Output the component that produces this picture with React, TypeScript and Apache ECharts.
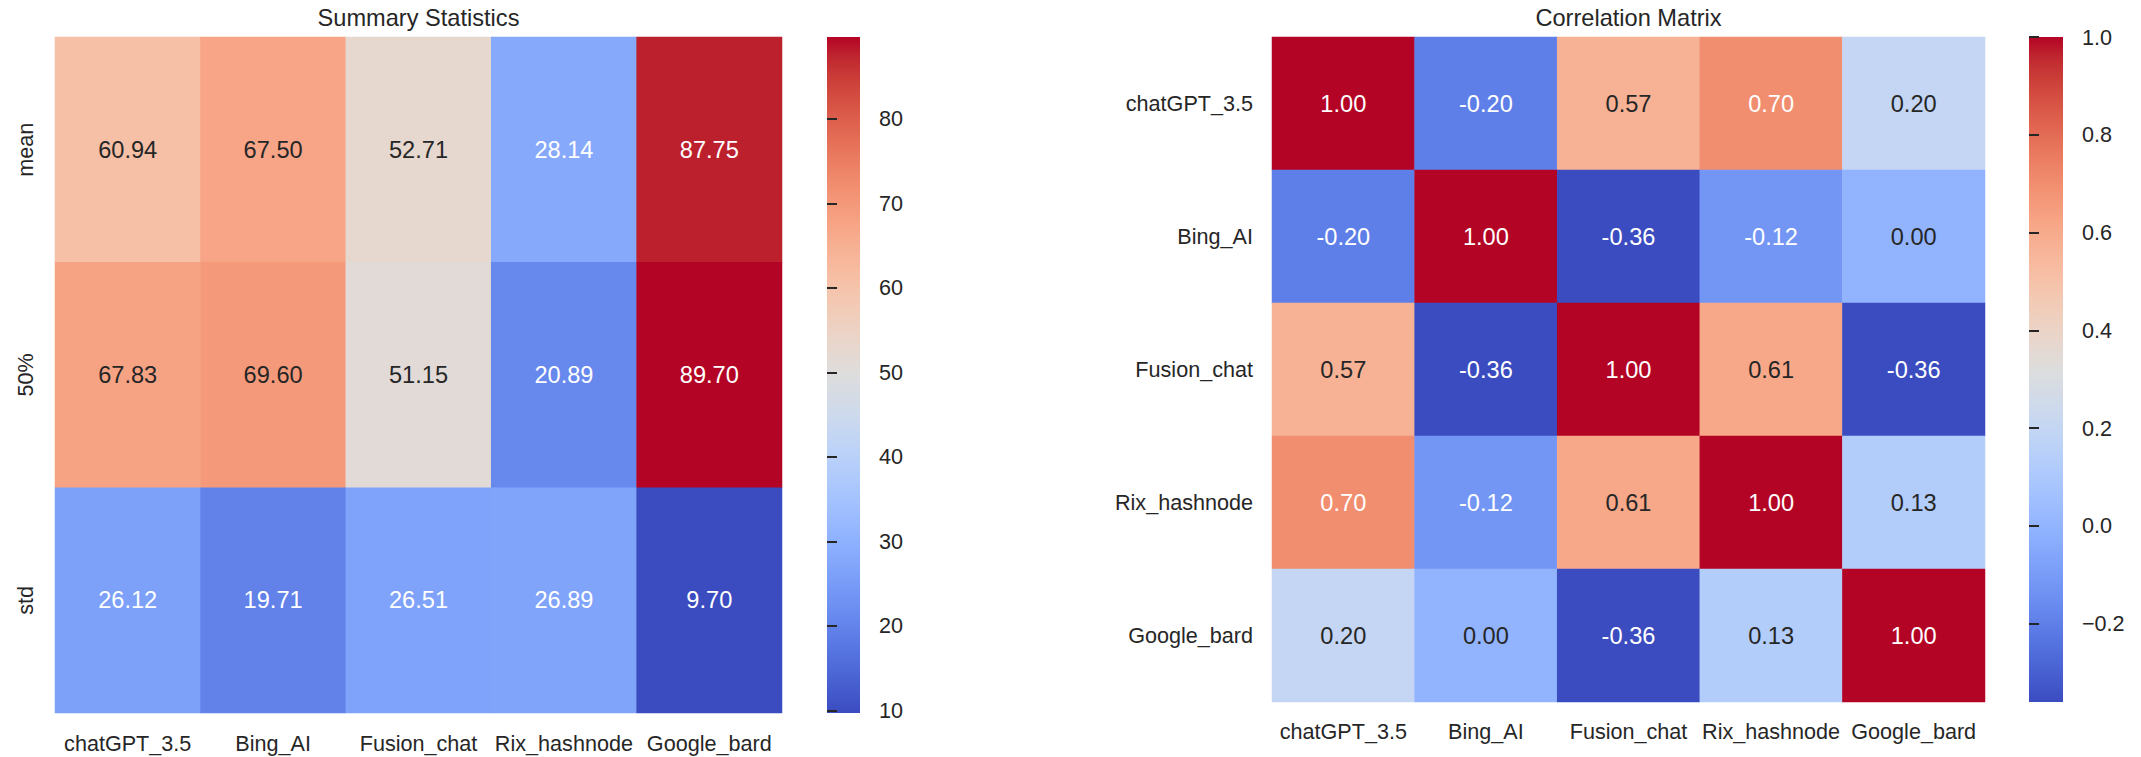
import React, { useEffect, useRef } from "react";
import * as echarts from "echarts";

// ---------- data ----------
const models = ["chatGPT_3.5", "Bing_AI", "Fusion_chat", "Rix_hashnode", "Google_bard"];
const statRows = ["mean", "50%", "std"];

const meanVals = [60.94, 67.5, 52.71, 28.14, 87.75];
const medianVals = [67.83, 69.6, 51.15, 20.89, 89.7];
const stdVals = [26.12, 19.71, 26.51, 26.89, 9.7];

const corrChatGPT = [1.0, -0.2, 0.57, 0.7, 0.2];
const corrBing = [-0.2, 1.0, -0.36, -0.12, 0.0];
const corrFusion = [0.57, -0.36, 1.0, 0.61, -0.36];
const corrRix = [0.7, -0.12, 0.61, 1.0, 0.13];
const corrGoogle = [0.2, 0.0, -0.36, 0.13, 1.0];

const summaryTicks = [10, 20, 30, 40, 50, 60, 70, 80];
const corrTicks = [-0.2, 0.0, 0.2, 0.4, 0.6, 0.8, 1.0];

// matplotlib "coolwarm" sampled at 33 evenly spaced points
const COOLWARM = [
  "#3b4cc0", "#445acc", "#4d68d7", "#5775e1", "#6282ea", "#6c8ff1", "#779af7", "#82a5fb",
  "#8db0fe", "#98b9ff", "#a3c2fe", "#aec9fc", "#b8d0f9", "#c2d5f4", "#ccd9ed", "#d5dbe5",
  "#dddddd", "#e5d8d1", "#ecd3c5", "#f1ccb8", "#f5c4ac", "#f7bba0", "#f7b194", "#f7a687",
  "#f49a7b", "#f18d6f", "#ec7f63", "#e57058", "#de604d", "#d55042", "#cb3e38", "#c0282f",
  "#b40426",
];

const FONT = "Arial, 'Liberation Sans', sans-serif";
const TEXT = "#262626";

function hexToRgb(h: string) {
  return [parseInt(h.slice(1, 3), 16), parseInt(h.slice(3, 5), 16), parseInt(h.slice(5, 7), 16)];
}
function cmap(t: number) {
  const n = COOLWARM.length - 1;
  const x = Math.max(0, Math.min(1, t)) * n;
  const i = Math.min(n - 1, Math.floor(x));
  const f = x - i;
  const a = hexToRgb(COOLWARM[i]);
  const b = hexToRgb(COOLWARM[i + 1]);
  return a.map((v, k) => v + (b[k] - v) * f);
}
function luminance(rgb: number[]) {
  const c = rgb.map((v) => {
    const s = v / 255;
    return s <= 0.03928 ? s / 12.92 : Math.pow((s + 0.055) / 1.055, 2.4);
  });
  return 0.2126 * c[0] + 0.7152 * c[1] + 0.0722 * c[2];
}

function buildCells(rows: number[][], vmin: number, vmax: number) {
  const out: any[] = [];
  rows.forEach((row, y) =>
    row.forEach((v, x) => {
      const lum = luminance(cmap((v - vmin) / (vmax - vmin)));
      out.push({ value: [x, y, v], label: { color: lum > 0.408 ? TEXT : "#ffffff" } });
    })
  );
  return out;
}

function gradient() {
  return new echarts.graphic.LinearGradient(
    0, 1, 0, 0,
    COOLWARM.map((c, i) => ({ offset: i / (COOLWARM.length - 1), color: c }))
  );
}

export default function App() {
  const ref = useRef<HTMLDivElement>(null);

  useEffect(() => {
    if (!ref.current) return;
    const chart = echarts.init(ref.current, undefined, { renderer: "svg" });

    const summaryRows = [meanVals, medianVals, stdVals];
    const corrRows = [corrChatGPT, corrBing, corrFusion, corrRix, corrGoogle];
    const sAll = summaryRows.flat();
    const cAll = corrRows.flat();
    const sMin = Math.min(...sAll);
    const sMax = Math.max(...sAll);
    const cMin = Math.min(...cAll);
    const cMax = Math.max(...cAll);

    const catLabel = { margin: 19, fontSize: 21.6, color: TEXT, fontFamily: FONT, interval: 0, hideOverlap: false };
    const hidden = { show: false };

    const cbAxis = (min: number, max: number, ticks: number[], fmt: (v: number) => string) => ({
      type: "value",
      min,
      max,
      position: "right",
      axisLine: hidden,
      splitLine: hidden,
      axisTick: { show: true, length: 10, lineStyle: { color: TEXT, width: 2 }, customValues: ticks },
      axisLabel: {
        customValues: ticks,
        margin: 19,
        fontSize: 21.6,
        color: TEXT,
        fontFamily: FONT,
        showMinLabel: true,
        showMaxLabel: true,
        formatter: fmt,
      },
    });

    const heatLabel = {
      show: true,
      fontSize: 23.6,
      fontFamily: FONT,
      formatter: (p: any) => Number(p.value[2]).toFixed(2),
    };

    chart.setOption({
      animation: false,
      backgroundColor: "#ffffff",
      title: [
        {
          text: "Summary Statistics",
          left: 418.5,
          top: 6,
          textAlign: "center",
          padding: 0,
          textStyle: { fontSize: 23.6, fontWeight: "normal", color: TEXT, fontFamily: FONT },
        },
        {
          text: "Correlation Matrix",
          left: 1628.5,
          top: 6,
          textAlign: "center",
          padding: 0,
          textStyle: { fontSize: 23.6, fontWeight: "normal", color: TEXT, fontFamily: FONT },
        },
      ],
      grid: [
        { left: 55, top: 37, width: 727, height: 676, outerBoundsMode: "none" },
        { left: 827, top: 37, width: 33, height: 676, show: true, backgroundColor: gradient(), borderWidth: 0, outerBoundsMode: "none" },
        { left: 1272, top: 37, width: 713, height: 665, outerBoundsMode: "none" },
        { left: 2029, top: 37, width: 34, height: 665, show: true, backgroundColor: gradient(), borderWidth: 0, outerBoundsMode: "none" },
      ],
      xAxis: [
        { gridIndex: 0, type: "category", data: models, axisLine: hidden, axisTick: hidden, splitLine: hidden, axisLabel: catLabel },
        { gridIndex: 1, type: "value", show: false },
        { gridIndex: 2, type: "category", data: models, axisLine: hidden, axisTick: hidden, splitLine: hidden, axisLabel: { ...catLabel, margin: 18 } },
        { gridIndex: 3, type: "value", show: false },
      ],
      yAxis: [
        { gridIndex: 0, type: "category", data: statRows, inverse: true, axisLine: hidden, axisTick: hidden, splitLine: hidden, axisLabel: { ...catLabel, rotate: 90 } },
        cbAxis(sMin, sMax, summaryTicks, (v: number) => String(Math.round(v))),
        { gridIndex: 2, type: "category", data: models, inverse: true, axisLine: hidden, axisTick: hidden, splitLine: hidden, axisLabel: catLabel },
        cbAxis(cMin, cMax, corrTicks, (v: number) => (v < 0 ? "\u2212" + Math.abs(v).toFixed(1) : v.toFixed(1))),
      ].map((a: any, i) => ({ ...a, gridIndex: i })),
      visualMap: [
        { type: "continuous", show: false, seriesIndex: 0, dimension: 2, min: sMin, max: sMax, inRange: { color: COOLWARM } },
        { type: "continuous", show: false, seriesIndex: 1, dimension: 2, min: cMin, max: cMax, inRange: { color: COOLWARM } },
      ],
      series: [
        {
          type: "heatmap",
          xAxisIndex: 0,
          yAxisIndex: 0,
          data: buildCells(summaryRows, sMin, sMax),
          label: heatLabel,
          itemStyle: { borderWidth: 0 },
          emphasis: { disabled: true },
        },
        {
          type: "heatmap",
          xAxisIndex: 2,
          yAxisIndex: 2,
          data: buildCells(corrRows, cMin, cMax),
          label: heatLabel,
          itemStyle: { borderWidth: 0 },
          emphasis: { disabled: true },
        },
      ],
    });

    return () => chart.dispose();
  }, []);

  return (
    <div
      ref={ref}
      style={{ position: "fixed", left: 0, top: 0, width: 2141, height: 757, background: "#fff" }}
    />
  );
}
